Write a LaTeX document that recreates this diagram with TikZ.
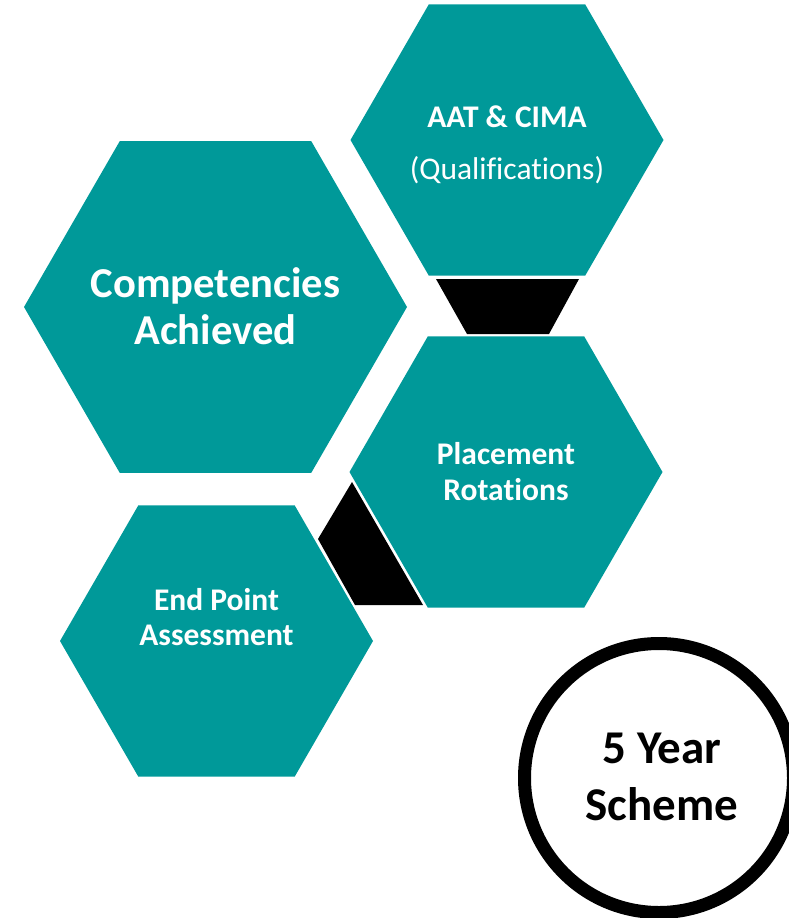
\documentclass[tikz,border=0pt]{standalone}
\usepackage{fontspec}
\setmainfont{Carlito}[Ligatures=CommonOff]
\usetikzlibrary{shapes.geometric}
\definecolor{hexteal}{RGB}{0,153,153}

\begin{document}
\begin{tikzpicture}[x=1pt,y=-1pt,
    hexa/.style={regular polygon,regular polygon sides=6,inner sep=0pt,fill=hexteal},
    hextext/.style={text=white,align=center,inner sep=0pt,font=\bfseries\fontsize{31.5}{36}\selectfont},
    link/.style={fill=black}]
      \useasboundingbox (0,0) rectangle (788,918);

      % black links behind the hexagons
      \fill[link] (436,279) -- (579,279) -- (549,334) -- (467,334) -- cycle;
      \fill[link] (352,482) -- (318,539) -- (355,605) -- (423,605) -- cycle;

      \node[hexa,minimum size=313pt] (qual) at (507,140) {};
      \node[hexa,minimum size=383pt] (comp) at (215.5,307) {};
      \node[hexa,minimum size=313pt] (place) at (506,472) {};
      \node[hexa,minimum size=313pt] (epa) at (216.5,641) {};

      \node[hextext] (qualtext) at (507,144.5)
        {AAT \& CIMA\\[16pt]{\mdseries (Qualifications)}};
      \node[hextext,font=\bfseries\fontsize{42.6}{47}\selectfont] (comptext) at (215.5,306.5)
        {Competencies\\Achieved};
      \node[hextext] (placetext) at (506,471.5) {Placement\\Rotations};
      \node[hextext,font=\bfseries\fontsize{31.5}{35}\selectfont] (epatext) at (216.5,617.5)
        {End Point\\Assessment};

      \node[circle,draw=black,line width=13pt,minimum size=269pt,inner sep=0pt] (years) at (659,778) {};
      \node[align=center,inner sep=0pt,font=\bfseries\fontsize{47}{57}\selectfont] (yearstext) at (662,776.5)
        {5 Year\\Scheme};
\end{tikzpicture}
\end{document}
